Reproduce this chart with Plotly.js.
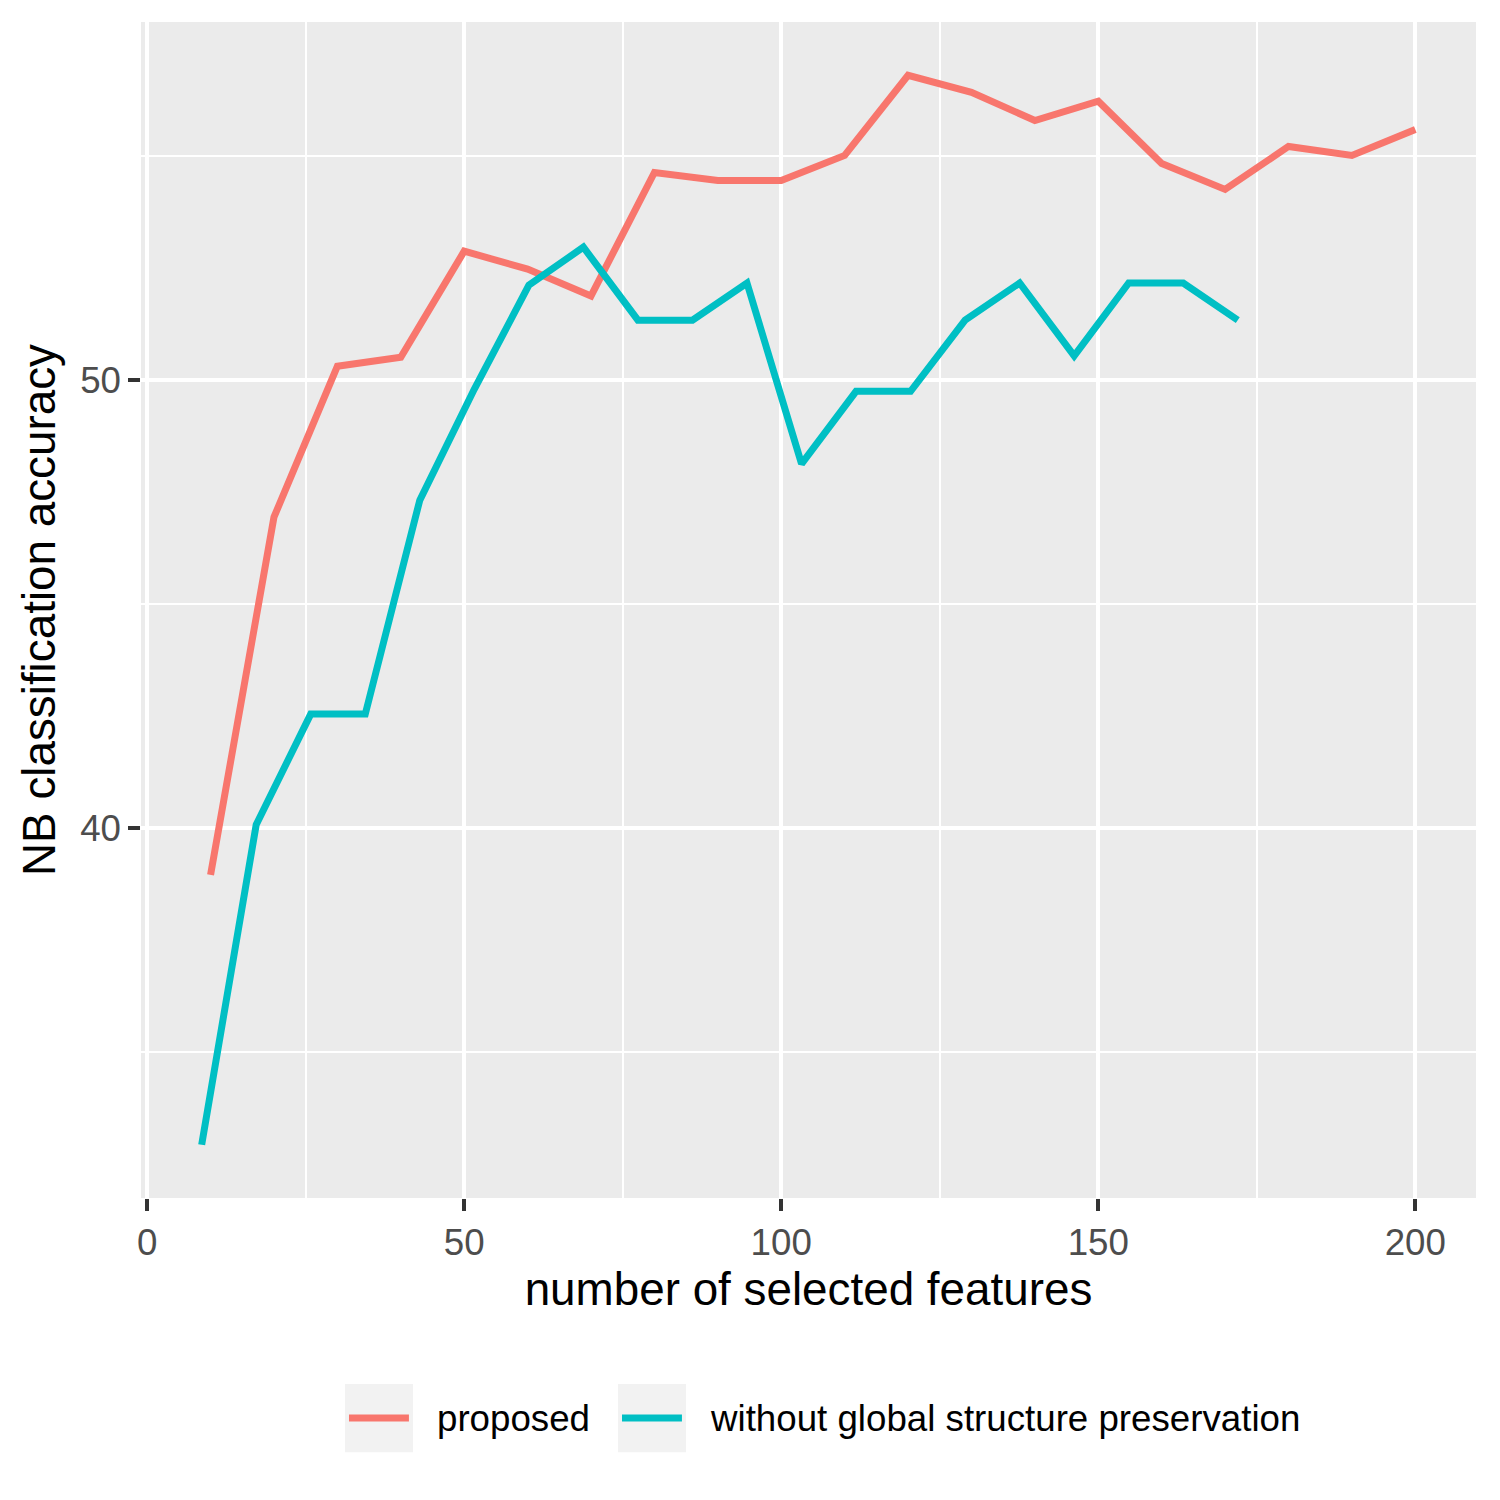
<!DOCTYPE html>
<html>
<head>
<meta charset="utf-8">
<script src="https://cdn.plot.ly/plotly-3.0.1.min.js"></script>
<style>
  body { margin: 0; background: #ffffff; }
  #chart { width: 1500px; height: 1500px; }
</style>
</head>
<body>
<div id="chart"></div>
<script>
/*** DATA ***/
// proposed method, every 10 features
var proposed_x = [10, 20, 30, 40, 50, 60, 70, 80, 90, 100, 110, 120, 130, 140, 150, 160, 170, 180, 190, 200];
var proposed_y = [38.95, 46.94, 50.31, 50.51, 52.88, 52.48, 51.88, 54.64, 54.46, 54.46,
                  55.02, 56.81, 56.43, 55.80, 56.23, 54.84, 54.26, 55.22, 55.02, 55.60];

// without global structure preservation
var noglobal_x = [8.6, 17.2, 25.8, 34.4, 43, 51.6, 60.2, 68.8, 77.4, 86, 94.6, 103.2,
                  111.8, 120.4, 129, 137.6, 146.2, 154.8, 163.4, 172];
var noglobal_y = [32.92, 40.07, 42.54, 42.54, 47.32, 49.80, 52.12, 52.97, 51.34, 51.34, 52.17, 48.13,
                  49.75, 49.75, 51.34, 52.17, 50.54, 52.17, 52.17, 51.34];

var series_names = ["proposed", "without global structure preservation"];
var series_colors = ["#F8766D", "#00BFC4"];

/*** PLOT ***/
var font_family = '"Liberation Sans", Arial, sans-serif';

var trace1 = {
    x: proposed_x,
    y: proposed_y,
    name: series_names[0],
    type: 'scatter',
    mode: 'lines',
    line: { color: series_colors[0], width: 7 }
};

var trace2 = {
    x: noglobal_x,
    y: noglobal_y,
    name: series_names[1],
    type: 'scatter',
    mode: 'lines',
    line: { color: series_colors[1], width: 7 }
};

// ggplot-style legend drawn below the panel: grey key, coloured line, label
var legend_key_left = [0.1528, 0.3573];   // paper x of each key box
var key_w = 0.0509;
var legend_y = -0.1871;
var legend_shapes = [];
var legend_labels = [];
for (var i = 0; i < series_names.length; i++) {
    var x0 = legend_key_left[i];
    legend_shapes.push({
        type: 'rect', xref: 'paper', yref: 'paper',
        x0: x0, x1: x0 + key_w, y0: legend_y - 0.029, y1: legend_y + 0.029,
        fillcolor: '#F2F2F2', line: { width: 0 }
    });
    legend_shapes.push({
        type: 'line', xref: 'paper', yref: 'paper',
        x0: x0 + 0.003, x1: x0 + key_w - 0.003, y0: legend_y, y1: legend_y,
        line: { color: series_colors[i], width: 7 }
    });
    legend_labels.push({
        xref: 'paper', yref: 'paper',
        x: x0 + key_w + 0.0168, y: legend_y,
        xanchor: 'left', yanchor: 'middle',
        text: series_names[i], showarrow: false,
        font: { size: 36.7, color: '#000000' }
    });
}

var layout = {
    width: 1500,
    height: 1500,
    margin: { l: 141, r: 24, t: 22, b: 302 },
    paper_bgcolor: '#ffffff',
    plot_bgcolor: '#EBEBEB',
    font: { family: font_family, color: '#000000' },
    showlegend: false,
    xaxis: {
        range: [-0.97, 209.57],
        tickvals: [0, 50, 100, 150, 200],
        ticks: 'outside', ticklen: 11.7, tickwidth: 4, tickcolor: '#333333',
        tickfont: { size: 36.7, color: '#4D4D4D' },
        showgrid: true, gridcolor: '#ffffff', gridwidth: 4,
        minor: { tickvals: [25, 75, 125, 175], showgrid: true, gridcolor: '#ffffff', gridwidth: 2, ticks: '' },
        zeroline: false, showline: false,
        title: { text: 'number of selected features', font: { size: 45.8, color: '#000000' }, standoff: 11 }
    },
    yaxis: {
        range: [31.73, 58.0],
        tickvals: [40, 50],
        ticks: 'outside', ticklen: 11.7, tickwidth: 4, tickcolor: '#333333',
        tickfont: { size: 36.7, color: '#4D4D4D' },
        showgrid: true, gridcolor: '#ffffff', gridwidth: 4,
        minor: { tickvals: [35, 45, 55], showgrid: true, gridcolor: '#ffffff', gridwidth: 2, ticks: '' },
        zeroline: false, showline: false,
        title: { text: 'NB classification accuracy', font: { size: 45.8, color: '#000000' }, standoff: 10 }
    },
    shapes: legend_shapes,
    annotations: legend_labels
};

Plotly.newPlot('chart', [trace1, trace2], layout, { displayModeBar: false, staticPlot: true });
</script>
</body>
</html>
